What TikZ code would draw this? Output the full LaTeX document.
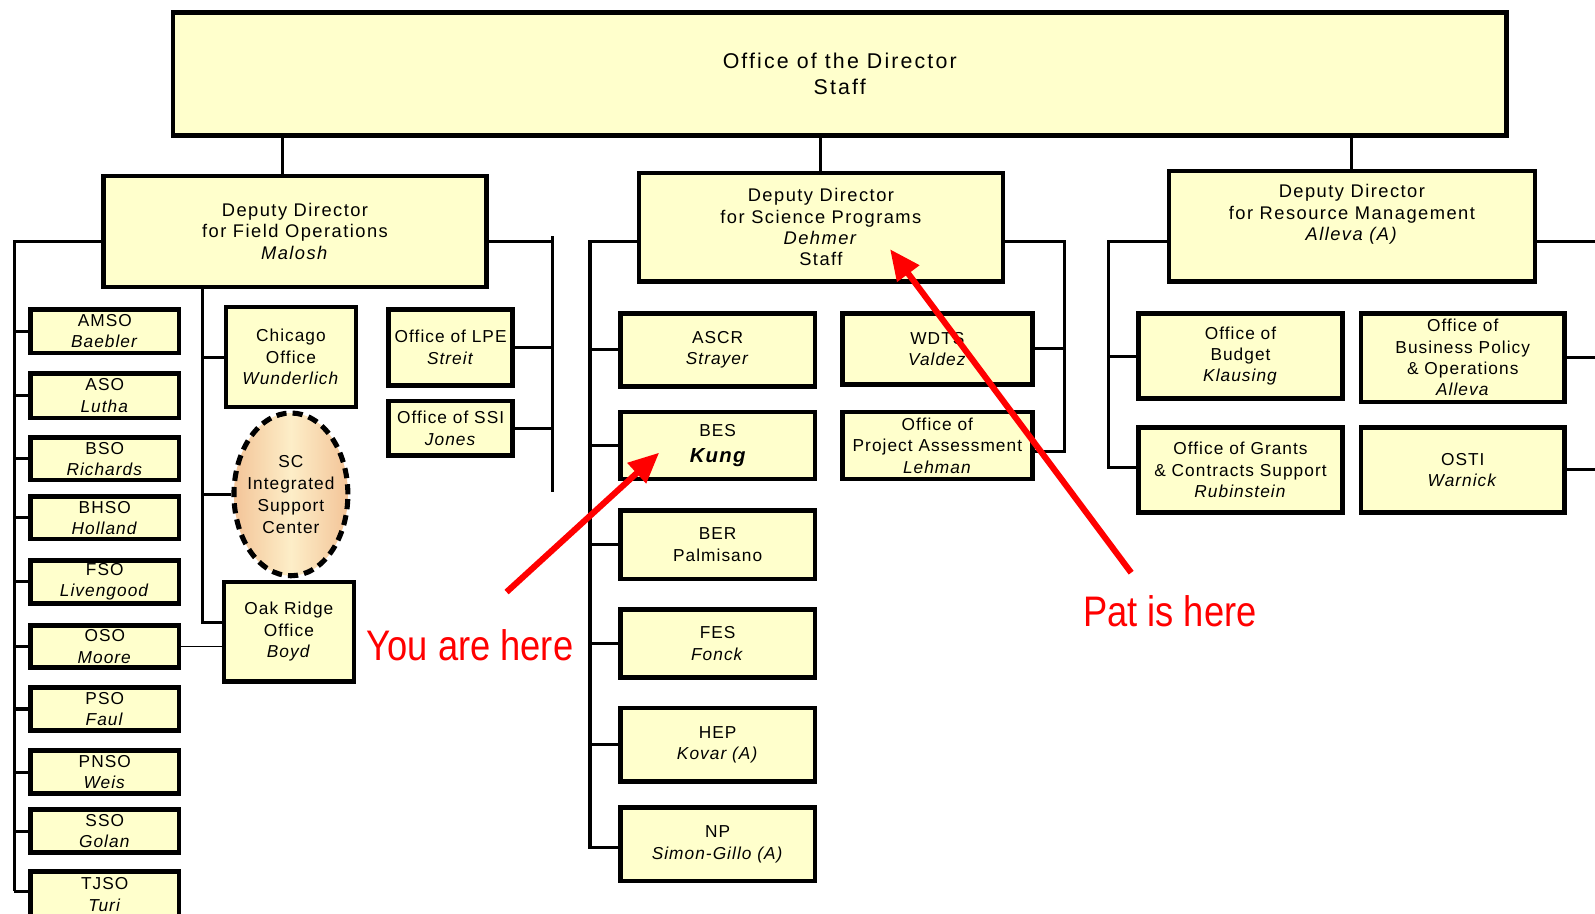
\documentclass[tikz,border=0pt]{standalone}
\usepackage{fontspec}
\setmainfont{Liberation Sans}
\newfontfamily\boxfont[LetterSpace=6]{Liberation Sans}
\newfontfamily\ddfont[LetterSpace=8]{Liberation Sans}
\newfontfamily\topfont[LetterSpace=10]{Liberation Sans}
\newfontfamily\redfont[FakeStretch=0.85]{Liberation Sans}
\usetikzlibrary{arrows.meta,shapes.geometric}
\definecolor{boxfill}{RGB}{255,255,204}
\definecolor{peach}{RGB}{243,196,152}
\definecolor{cream}{RGB}{253,238,200}
\begin{document}
\begin{tikzpicture}[x=1pt,y=-1pt,
  box/.style={draw=black, line width=4.5pt, fill=boxfill, align=center, inner sep=0pt,
    font=\boxfont\fontsize{17}{21}\selectfont},
  ddbox/.style={box, font=\ddfont\fontsize{18}{21}\selectfont},
  topbox/.style={box, font=\topfont\fontsize{21}{26}\selectfont},
  lbox/.style={box, minimum width=146pt},
  mbox/.style={box, minimum width=191pt},
  conn/.style={draw=black, line width=3pt},
  thinconn/.style={draw=black, line width=1.5pt},
  redarrow/.style={draw=red, line width=6pt, -{Triangle[length=30pt,width=26pt]}},
  redtext/.style={text=red, inner sep=0pt, font=\redfont\fontsize{42}{48}\selectfont}]

\useasboundingbox (0,0) rectangle (1568,898);

% ---------- top ----------
\node[topbox, minimum width=1311pt, minimum height=121pt] (top) at (825.5,72.5) {Office of the Director\\Staff};

% ---------- deputy directors ----------
\node[ddbox, minimum width=376pt, minimum height=109pt] (ddf) at (290,227.5)
  {Deputy Director\\for Field Operations\\\textit{Malosh}};
\node[ddbox, minimum width=358pt, minimum height=107pt] (dds) at (807,223.5)
  {Deputy Director\\for Science Programs\\\textit{Dehmer}\\Staff};
\node[ddbox, minimum width=360pt, minimum height=109pt] (ddr) at (1329,222.5)
  {Deputy Director\\for Resource Management\\\textit{Alleva (A)}\\\strut};

% ---------- field offices ----------
\node[lbox, minimum height=43pt] (amso) at (103,325.5) {AMSO\\\textit{Baebler}};
\node[lbox, minimum height=44pt] (aso)  at (103,389)   {ASO\\\textit{Lutha}};
\node[lbox, minimum height=42pt] (bso)  at (103,451)   {BSO\\\textit{Richards}};
\node[lbox, minimum height=42pt] (bhso) at (103,509)   {BHSO\\\textit{Holland}};
\node[lbox, minimum height=42pt] (fso)  at (103,572)   {FSO\\\textit{Livengood}};
\node[lbox, minimum height=41pt] (oso)  at (103,635.5) {OSO\\\textit{Moore}};
\node[lbox, minimum height=42pt] (pso)  at (103,697)   {PSO\\\textit{Faul}};
\node[lbox, minimum height=42pt] (pnso) at (103,759)   {PNSO\\\textit{Weis}};
\node[lbox, minimum height=42pt] (sso)  at (103,817)   {SSO\\\textit{Golan}};
\node[lbox, minimum height=45pt] (tjso) at (103,879.5) {TJSO\\\textit{Turi}};

\node[box, minimum width=128pt, minimum height=98pt] (chi) at (286,351) {Chicago\\Office\\\textit{Wunderlich}};
\node[ellipse, draw=black, line width=5pt, dash pattern=on 10pt off 6pt,
      left color=peach, right color=peach, middle color=cream,
      minimum width=112pt, minimum height=160pt, inner sep=0pt] (sc) at (286,486) {};
\node[align=center, inner sep=0pt, font=\boxfont\fontsize{17}{21.7}\selectfont] (sctext) at (sc.center)
  {SC\\Integrated\\Support\\Center};
\node[box, minimum width=128pt, minimum height=98pt] (oak) at (284,621) {Oak Ridge\\Office\\\textit{Boyd}};
\node[box, minimum width=122pt, minimum height=75pt] (lpe) at (443,341.5) {Office of LPE\\\textit{Streit}};
\node[box, minimum width=122pt, minimum height=54pt] (ssi) at (443,421) {Office of SSI\\\textit{Jones}};

% ---------- science programs ----------
\node[mbox, minimum height=72pt] (ascr) at (705.5,344) {ASCR\\\textit{Strayer}};
\node[mbox, minimum height=66pt] (bes)  at (705.5,438) {BES\\[4pt]{\fontsize{20}{24}\selectfont\bfseries\itshape Kung}};
\node[mbox, minimum height=67pt] (ber)  at (705.5,535.5) {BER\\Palmisano};
\node[mbox, minimum height=67pt] (fes)  at (705.5,632.5) {FES\\\textit{Fonck}};
\node[mbox, minimum height=72pt] (hep)  at (705.5,732) {HEP\\\textit{Kovar (A)}};
\node[mbox, minimum height=72pt] (np)   at (705.5,830) {NP\\\textit{Simon-Gillo (A)}};
\node[box, minimum width=187pt, minimum height=70pt] (wdts) at (921.5,343) {WDTS\\\textit{Valdez}};
\node[box, minimum width=187pt, minimum height=66pt] (opa)  at (921.5,438) {Office of\\Project Assessment\\\textit{Lehman}};

% ---------- resource management ----------
\node[box, minimum width=201pt, minimum height=84pt] (bud)  at (1219.5,350) {Office of\\Budget\\\textit{Klausing}};
\node[box, minimum width=200pt, minimum height=87pt] (bpo)  at (1438,351.5) {Office of\\Business Policy\\\& Operations\\\textit{Alleva}};
\node[box, minimum width=201pt, minimum height=84pt] (gcs)  at (1219.5,462) {Office of Grants\\\& Contracts Support\\\textit{Rubinstein}};
\node[box, minimum width=200pt, minimum height=84pt] (osti) at (1438,462) {OSTI\\\textit{Warnick}};

% ---------- bus coordinates ----------
\coordinate (tx) at (278,0);
\coordinate (lbt) at (14,237);
\coordinate (lbb) at (14,876);
\coordinate (ivt) at (199,287);
\coordinate (ivb) at (199,612);
\coordinate (rbt) at (543,232);
\coordinate (rbb) at (543,484);
\coordinate (mlt) at (580,237);
\coordinate (mlb) at (580,833);
\coordinate (mrt) at (1046,237);
\coordinate (mrb) at (1046,444);
\coordinate (rlt) at (1090,237);
\coordinate (rlb) at (1090,460);
\coordinate (edge) at (1580,237);

% ---------- connectors ----------
\draw[conn] (top.south -| tx) -- (ddf.north -| tx);
\draw[conn] (top.south -| dds.north) -- (dds.north);
\draw[conn] (top.south -| ddr.north) -- (ddr.north);

\draw[conn] (lbt -| ddf.west) -- (lbt) -- (lbb);
\foreach \n in {amso,aso,bso,bhso,fso,oso,pso,pnso,sso}
  \draw[conn] (\n.west) -- (\n.west -| lbt);
\draw[conn] (lbb) -- (lbb -| tjso.west);

\draw[conn] (ddf.south -| ivt) -- (ivb) -- (ivb -| oak.west);
\draw[conn] (chi.west) -- (chi.west -| ivt);
\draw[conn] (sc.west) -- (sc.west -| ivt);
\draw[thinconn] (oso.east) -- (oso.east -| oak.west);

\draw[conn] (rbt |- lbt) -- (rbt |- lbt -| ddf.east);
\draw[conn] (rbt) -- (rbb);
\draw[conn] (lpe.east) -- (lpe.east -| rbt);
\draw[conn] (ssi.east) -- (ssi.east -| rbt);

\draw[conn] (mlt -| dds.west) -- (mlt) -- (mlb) -- (mlb -| np.west);
\foreach \n in {ascr,bes,ber,fes,hep}
  \draw[conn] (\n.west) -- (\n.west -| mlt);
\draw[conn] (mrt -| dds.east) -- (mrt) -- (mrb) -- (mrb -| opa.east);
\draw[conn] (wdts.east) -- (wdts.east -| mrt);

\draw[conn] (rlt -| ddr.west) -- (rlt) -- (rlb) -- (rlb -| gcs.west);
\draw[conn] (bud.west) -- (bud.west -| rlt);
\draw[conn] (edge -| ddr.east) -- (edge);
\draw[conn] (bpo.east) -- (bpo.east -| edge);
\draw[conn] (osti.east) -- (osti.east -| edge);

% ---------- red annotations ----------
\coordinate (yt) at (498,582);
\coordinate (yh) at (648,445);
\coordinate (pt) at (1112,563);
\coordinate (ph) at (875,245);
\draw[redarrow] (yt) -- (yh);
\draw[redarrow] (pt) -- (ph);
\node[redtext] (you) at (462,634) {You are here};
\node[redtext] (pat) at (1150,601) {Pat is here};
\end{tikzpicture}
\end{document}
